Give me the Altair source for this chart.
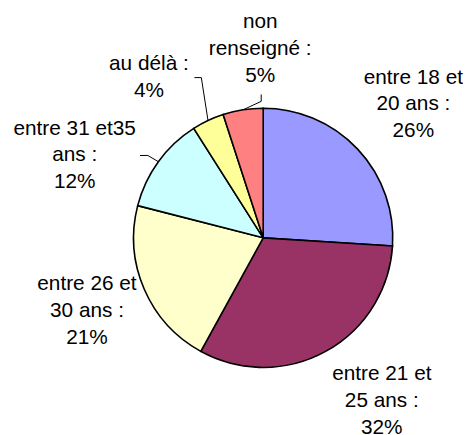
import math
import altair as alt
import pandas as pd

# ---- data ----
categories = ["entre 18 et 20 ans", "entre 21 et 25 ans", "entre 26 et 30 ans",
              "entre 31 et35 ans", "au délà", "non renseigné"]
values = [26, 32, 21, 12, 4, 5]
label_lines = [["entre 18 et", "20 ans :"],
               ["entre 21 et", "25 ans :"],
               ["entre 26 et", "30 ans :"],
               ["entre 31 et35", "ans :"],
               ["au délà :"],
               ["non", "renseigné :"]]
colors = ["#9999FF", "#993366", "#FFFFCC", "#CCFFFF", "#FFFF99", "#FF8080"]

# ---- layout ----
W, H = 450, 422
CX, CY, R = 253, 225, 131
LH = 27
label_shift = [1.6, -7.2, 0.8, -12.4, -10.3, 8.1]     # degrees, label nudges
label_dist = [203, 204, 193, 208, 199, 191]            # px from centre
# leader lines: (elbow offset, end offset) relative to label centre, None = no leader
leaders = [None, None, None,
           ((74, 0), (66, 0)),
           ((53, 0), (46, 0)),
           ((1, 53), (1, 46))]

total = sum(values)
rows, lab_rows, line_rows = [], [], []
cum = 0
for i, (c, v) in enumerate(zip(categories, values)):
    mid = (cum + v / 2) / total * 360
    cum += v
    rows.append({"cat": c, "value": v, "idx": i})
    a = math.radians(mid + label_shift[i])
    lx = CX + label_dist[i] * math.sin(a)
    ly = CY - label_dist[i] * math.cos(a)
    parts = label_lines[i] + [f"{round(v / total * 100)}%"]
    top = ly - (len(parts) - 1) / 2 * LH
    lab_rows.append({"cat": c, "lx": lx, "ly": top, "label": "\n".join(parts)})
    if leaders[i]:
        m = math.radians(mid)
        pts = [(CX + R * math.sin(m), CY - R * math.cos(m)),
               (lx + leaders[i][0][0], ly + leaders[i][0][1]),
               (lx + leaders[i][1][0], ly + leaders[i][1][1])]
        for k, (px, py) in enumerate(pts):
            line_rows.append({"cat": c, "pt": k, "x": px, "y": py})

df = pd.DataFrame(rows)
labs = pd.DataFrame(lab_rows)
lines = pd.DataFrame(line_rows)

pie = alt.Chart(df).mark_arc(outerRadius=R, stroke="black", strokeWidth=1.6).encode(
    theta=alt.Theta("value:Q", stack=True),
    order=alt.Order("idx:Q"),
    color=alt.Color("cat:N", scale=alt.Scale(domain=categories, range=colors), legend=None),
    x=alt.value(CX),
    y=alt.value(CY),
)

leader = alt.Chart(lines).mark_line(color="black", strokeWidth=1).encode(
    x=alt.X("x:Q", scale=None, axis=None),
    y=alt.Y("y:Q", scale=None, axis=None),
    detail="cat:N",
    order="pt:Q",
)

text = alt.Chart(labs).mark_text(
    lineBreak="\n", font="Liberation Sans", fontSize=21, lineHeight=LH,
    align="center", baseline="middle", color="black",
).encode(
    x=alt.X("lx:Q", scale=None, axis=None),
    y=alt.Y("ly:Q", scale=None, axis=None),
    text="label:N",
)

chart = alt.layer(pie, leader, text).properties(
    width=W, height=H, padding=5,
    autosize=alt.AutoSizeParams(type="none"),
).configure_view(stroke=None)

chart.save("out.html", embed_options={"renderer": "svg", "actions": False})
